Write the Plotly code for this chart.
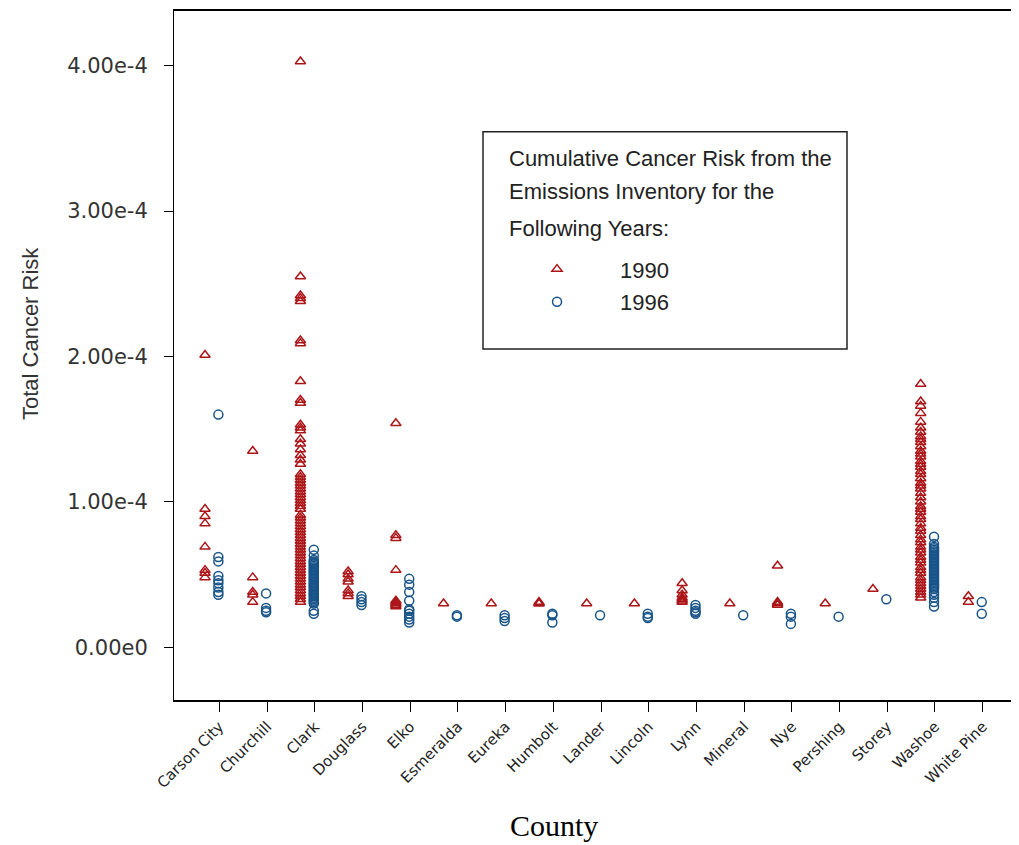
import plotly.graph_objects as go

counties = ["Carson City", "Churchill", "Clark", "Douglass", "Elko", "Esmeralda",
            "Eureka", "Humbolt", "Lander", "Lincoln", "Lynn", "Mineral", "Nye",
            "Pershing", "Storey", "Washoe", "White Pine"]

# Values, in units of 1e-4
risk_1990 = {
    "Carson City": [2.01, 0.95, 0.90, 0.85, 0.69, 0.53, 0.51, 0.48],
    "Churchill": [1.35, 0.48, 0.38, 0.36, 0.31],
    "Clark": [4.03, 2.55, 2.42, 2.40, 2.38, 2.11, 2.09, 1.83, 1.70, 1.68, 1.53, 1.51,
              1.49, 1.43, 1.40, 1.36, 1.32, 1.29, 1.26, 1.19, 1.17, 1.15, 1.13, 1.11,
              1.09, 1.07, 1.05, 1.03, 1.01, 0.99, 0.97, 0.95, 0.91, 0.89, 0.87, 0.85,
              0.83, 0.81, 0.79, 0.77, 0.75, 0.73, 0.71, 0.69, 0.67, 0.65, 0.63, 0.61,
              0.59, 0.57, 0.55, 0.53, 0.51, 0.49, 0.47, 0.45, 0.43, 0.41, 0.39, 0.37,
              0.35, 0.33, 0.31],
    "Douglass": [0.52, 0.50, 0.47, 0.45, 0.39, 0.37, 0.35],
    "Elko": [1.54, 0.77, 0.75, 0.53, 0.32, 0.31, 0.30, 0.29, 0.28],
    "Esmeralda": [0.30],
    "Eureka": [0.30],
    "Humbolt": [0.31, 0.30, 0.30],
    "Lander": [0.30],
    "Lincoln": [0.30],
    "Lynn": [0.44, 0.39, 0.36, 0.34, 0.33, 0.32, 0.31],
    "Mineral": [0.30],
    "Nye": [0.56, 0.31, 0.30, 0.29],
    "Pershing": [0.30],
    "Storey": [0.40],
    "Washoe": [1.81, 1.69, 1.66, 1.61, 1.55, 1.51, 1.48, 1.45, 1.43, 1.41, 1.38, 1.35,
               1.33, 1.31, 1.28, 1.26, 1.24, 1.21, 1.19, 1.16, 1.13, 1.11, 1.09, 1.06,
               1.03, 1.00, 0.97, 0.95, 0.93, 0.90, 0.88, 0.85, 0.82, 0.80, 0.77, 0.74,
               0.72, 0.69, 0.67, 0.65, 0.62, 0.60, 0.58, 0.55, 0.53, 0.51, 0.48, 0.46,
               0.44, 0.42, 0.40, 0.38, 0.36, 0.34],
    "White Pine": [0.35, 0.31],
}

risk_1996 = {
    "Carson City": [1.60, 0.62, 0.59, 0.49, 0.46, 0.44, 0.41, 0.38, 0.36],
    "Churchill": [0.37, 0.27, 0.25, 0.24],
    "Clark": [0.67, 0.63, 0.60, 0.59, 0.58, 0.57, 0.56, 0.55, 0.54, 0.53, 0.52, 0.51,
              0.50, 0.49, 0.48, 0.47, 0.46, 0.45, 0.44, 0.43, 0.42, 0.41, 0.40, 0.39,
              0.38, 0.37, 0.36, 0.35, 0.34, 0.33, 0.32, 0.31, 0.30, 0.25, 0.23],
    "Douglass": [0.35, 0.33, 0.31, 0.29],
    "Elko": [0.47, 0.43, 0.38, 0.32, 0.26, 0.25, 0.23, 0.21, 0.19, 0.17],
    "Esmeralda": [0.22, 0.21],
    "Eureka": [0.22, 0.20, 0.18],
    "Humbolt": [0.23, 0.22, 0.17],
    "Lander": [0.22],
    "Lincoln": [0.23, 0.21, 0.20],
    "Lynn": [0.29, 0.27, 0.25, 0.24, 0.23],
    "Mineral": [0.22],
    "Nye": [0.23, 0.21, 0.16],
    "Pershing": [0.21],
    "Storey": [0.33],
    "Washoe": [0.76, 0.71, 0.69, 0.68, 0.67, 0.66, 0.65, 0.64, 0.63, 0.62, 0.61, 0.60,
               0.59, 0.58, 0.57, 0.56, 0.55, 0.54, 0.53, 0.52, 0.51, 0.50, 0.49, 0.48,
               0.47, 0.46, 0.45, 0.44, 0.43, 0.42, 0.41, 0.40, 0.38, 0.36, 0.34, 0.31,
               0.28],
    "White Pine": [0.31, 0.23],
}

y_tick_vals = [0.0, 1e-4, 2e-4, 3e-4, 4e-4]
y_tick_text = ["0.00e0", "1.00e-4", "2.00e-4", "3.00e-4", "4.00e-4"]

legend_title_lines = ["Cumulative Cancer Risk from the",
                      "Emissions Inventory for the",
                      "Following Years:"]

RED = "#AC1619"
BLUE = "#185489"
UNIT = 1e-4
OFF_1990 = -0.30
OFF_1996 = -0.02


def flatten(d, off):
    xs, ys = [], []
    for i, c in enumerate(counties):
        for v in d.get(c, []):
            xs.append(i + off)
            ys.append(v * UNIT)
    return xs, ys


x90, y90 = flatten(risk_1990, OFF_1990)
x96, y96 = flatten(risk_1996, OFF_1996)

fig = go.Figure()
fig.add_trace(go.Scatter(
    x=x90, y=y90, mode="markers", name="1990", legendgroup="a",
    marker=dict(symbol="triangle-up-open", size=9, color=RED, line=dict(width=1.5, color=RED)),
))
fig.add_trace(go.Scatter(
    x=x96, y=y96, mode="markers", name="1996", legendgroup="b",
    marker=dict(symbol="circle-open", size=9, color=BLUE, line=dict(width=1.5, color=BLUE)),
))

# page body has an 8px default margin; figure is sized/placed to compensate
OFFSET = 8
W, H = 1011, 837
L, R, T, B = 166, 1, 1, 145
pw, ph = W - L - R, H - T - B


def px2x(px):
    return (px - OFFSET - L) / pw


def py2y(py):
    return (H - B - (py - OFFSET)) / ph


fig.update_layout(
    width=W, height=H,
    margin=dict(l=L, r=R, t=T, b=B, pad=0),
    paper_bgcolor="white", plot_bgcolor="white",
    font=dict(family="Liberation Sans, Arial, sans-serif", color="#222"),
    showlegend=True,
    legend=dict(
        x=px2x(494), y=py2y(247), xanchor="left", yanchor="top",
        bgcolor="rgba(0,0,0,0)", borderwidth=0,
        font=dict(size=22, color="#222"),
        itemwidth=116, tracegroupgap=1,
    ),
    xaxis=dict(
        range=[-0.95, 16.74],
        tickmode="array", tickvals=list(range(len(counties))), ticktext=counties,
        tickangle=-45, tickfont=dict(size=15, color="#222", family="DejaVu Sans, sans-serif"),
        ticks="outside", ticklen=10, tickwidth=1, tickcolor="black",
        showline=True, linecolor="black", linewidth=2, mirror=True,
        showgrid=False, zeroline=False,
    ),
    yaxis=dict(
        range=[-0.3636e-4, 4.377e-4],
        tickmode="array", tickvals=y_tick_vals, ticktext=y_tick_text,
        tickfont=dict(size=21, color="#333", family="DejaVu Sans, sans-serif"),
        ticklabelstandoff=12,
        ticks="outside", ticklen=9, tickwidth=1, tickcolor="black",
        showline=True, linecolor="black", linewidth=1, mirror=False,
        showgrid=False, zeroline=False,
    ),
)

# legend frame
fig.add_shape(type="rect", xref="paper", yref="paper",
              x0=px2x(483), x1=px2x(847), y0=py2y(348), y1=py2y(130),
              line=dict(color="#222", width=1.5), fillcolor="rgba(0,0,0,0)")

for line_text, cy in zip(legend_title_lines, [157, 190, 227]):
    fig.add_annotation(text=line_text, xref="paper", yref="paper",
                       x=px2x(507), y=py2y(cy), xanchor="left", yanchor="middle",
                       showarrow=False, font=dict(size=22, color="#222"))

fig.add_annotation(text="Total Cancer Risk", xref="paper", yref="paper",
                   x=px2x(30), y=py2y(333), xanchor="center", yanchor="middle",
                   textangle=-90, showarrow=False, font=dict(size=22, color="#333"))
fig.add_annotation(text="County", xref="paper", yref="paper",
                   x=px2x(554), y=py2y(826), xanchor="center", yanchor="middle",
                   showarrow=False,
                   font=dict(size=30, color="black", family="Liberation Serif, Times New Roman, serif"))

fig.write_html("out.html")
